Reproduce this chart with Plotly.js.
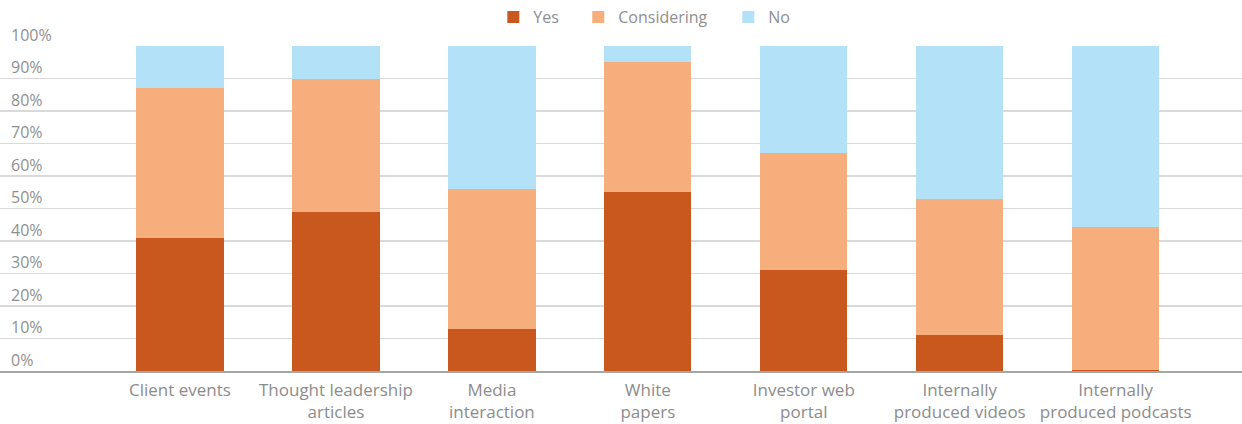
<!DOCTYPE html>
<html>
<head>
<meta charset="utf-8">
<script src="https://cdn.plot.ly/plotly-3.0.1.min.js"></script>
<style>html,body{margin:0;padding:0;background:#fff;}#chart{width:1242px;height:424px;}</style>
</head>
<body>
<div id="chart"></div>
<script>
const categories = ["Client events", "Thought leadership<br>articles", "Media<br>interaction", "White<br>papers", "Investor web<br>portal", "Internally<br>produced videos", "Internally<br>produced podcasts"];
const yesValues = [41, 49, 13, 55, 31, 11, 0.3];
const consideringValues = [46, 41, 43, 40, 36, 42, 44];
const noValues = [13, 10, 44, 5, 33, 47, 55.7];
const yTickValues = [0, 10, 20, 30, 40, 50, 60, 70, 80, 90, 100];
const yTickLabels = ["0%", "10%", "20%", "30%", "40%", "50%", "60%", "70%", "80%", "90%", "100%"];

const colors = {yes: "#C9581F", considering: "#F5AE7C", no: "#B3E1F7"};
const font = {family: "Open Sans, Lato, sans-serif", size: 16, color: "#8f8f8f"};
const xFont = {family: "Open Sans, Lato, sans-serif", size: 17, color: "#8c8c8c"};

const traces = [
  {type: "bar", name: "Yes", legend: "legend", x: categories, y: yesValues, marker: {color: colors.yes}, hoverinfo: "skip"},
  {type: "bar", name: "Considering", legend: "legend2", x: categories, y: consideringValues, marker: {color: colors.considering}, hoverinfo: "skip"},
  {type: "bar", name: "No", legend: "legend3", x: categories, y: noValues, marker: {color: colors.no}, hoverinfo: "skip"}
];

function legendAt(xFrac) {
  return {orientation: "h", x: xFrac, xanchor: "left", y: 1.089, yanchor: "middle", font: font, bgcolor: "rgba(0,0,0,0)"};
}

const layout = {
  width: 1242, height: 424,
  margin: {l: 0, r: 0, t: 46, b: 53},
  barmode: "stack",
  bargap: 0.44,
  paper_bgcolor: "#fff", plot_bgcolor: "#fff",
  font: font,
  showlegend: true,
  legend: legendAt(0.3972),
  legend2: legendAt(0.4656),
  legend3: legendAt(0.5864),
  xaxis: {
    type: "category",
    range: [-1.154, 6.81],
    showgrid: false,
    showline: true, linecolor: "#a6a6a6", linewidth: 1.5,
    ticks: "", tickfont: xFont, fixedrange: true,
    ticklabelstandoff: 3
  },
  yaxis: {
    range: [0, 100],
    tickvals: yTickValues, ticktext: yTickLabels,
    showgrid: true, gridcolor: "#d9d9d9", gridwidth: 1.2,
    zeroline: false, showline: false, ticks: "",
    ticklabelposition: "inside", ticklabeloverflow: "allow",
    ticklabelshift: -11, ticklabelstandoff: 8,
    tickfont: font, fixedrange: true
  }
};

Plotly.newPlot("chart", traces, layout, {displayModeBar: false, staticPlot: true});
</script>
</body>
</html>
